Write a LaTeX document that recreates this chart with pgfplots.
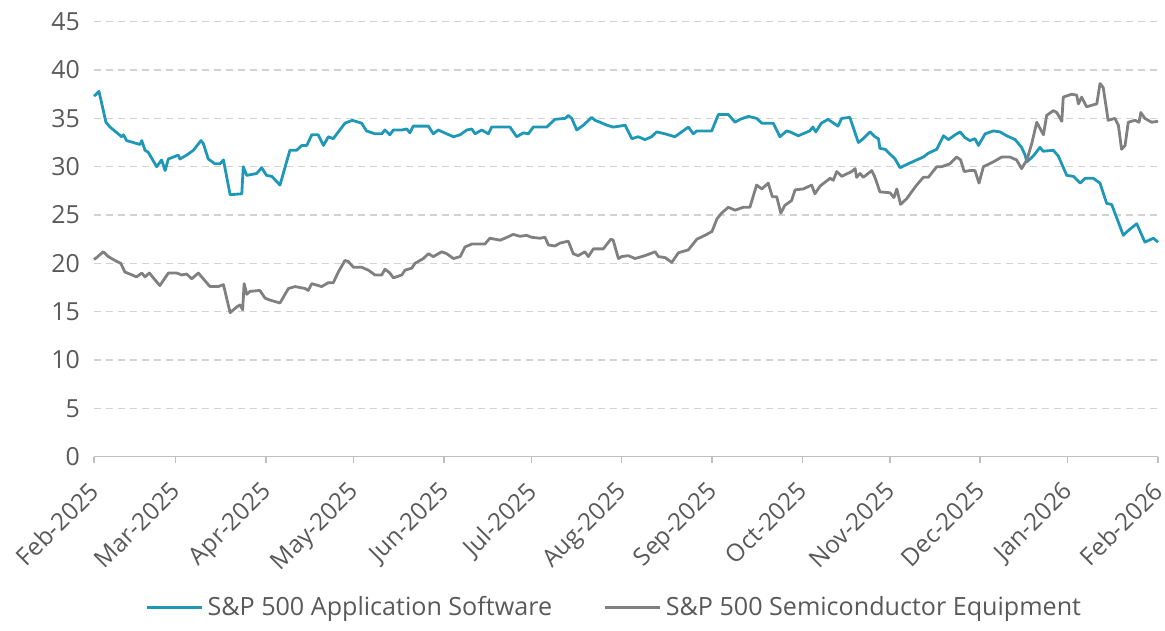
\documentclass[border=0pt]{standalone}
\usepackage{fontspec}
\setmainfont{Open Sans}
\usepackage{pgfplots}
\pgfplotsset{compat=1.18}
\definecolor{swblue}{RGB}{30,152,182}
\definecolor{semigray}{RGB}{128,128,128}
\definecolor{txt}{RGB}{89,89,89}
\definecolor{gridc}{RGB}{210,210,210}
\definecolor{axc}{RGB}{191,191,191}

\pgfplotstableread{
x y
0 37.3
1.1 37.6
1.7 37.8
4.1 34.6
5.5 34.1
8.3 33.4
9.5 33.1
10.1 33.3
11.2 32.7
15.8 32.3
16.4 32.7
17.5 31.7
18.6 31.5
21.5 30.0
23.2 30.7
24.4 29.6
25.5 30.8
28.9 31.2
29.5 30.8
31.8 31.2
34.1 31.7
36.7 32.7
37.5 32.4
39.2 30.8
41.5 30.3
43.2 30.3
44.4 30.7
46.7 27.1
50.7 27.2
51.2 30.0
52.4 29.1
55.8 29.3
57.5 29.9
59.2 29.1
61.0 29.0
63.8 28.1
67.2 31.7
69.5 31.7
71.3 32.2
73.0 32.2
74.7 33.3
76.9 33.3
78.7 32.2
80.4 33.1
82.1 32.9
83.8 33.6
86.1 34.5
88.6 34.8
91.8 34.5
93.5 33.7
96.4 33.4
98.7 33.4
99.8 33.8
101.5 33.3
102.7 33.8
105.6 33.8
107.3 33.9
108.4 33.5
109.5 34.2
114.7 34.2
116.4 33.4
118.1 33.8
121.0 33.4
123.3 33.1
125.6 33.3
127.9 33.8
129.6 33.9
130.7 33.4
133.0 33.8
135.3 33.4
136.4 34.1
142.7 34.1
145.0 33.1
147.3 33.5
149.0 33.4
150.7 34.1
155.3 34.1
158.1 34.9
161.6 35.0
162.7 35.3
163.9 35.0
165.6 33.8
167.9 34.3
170.7 35.1
171.9 34.8
173.6 34.6
175.9 34.3
178.1 34.1
180.4 34.2
182.2 34.3
184.5 32.9
186.7 33.1
189.0 32.8
191.3 33.1
193.0 33.6
195.9 33.4
199.3 33.1
203.9 34.1
205.6 33.4
206.8 33.7
211.9 33.7
214.2 35.4
217.6 35.4
219.9 34.6
221.6 34.9
224.5 35.2
227.3 35.0
229.1 34.5
233.0 34.5
235.3 33.1
237.6 33.7
238.8 33.6
241.6 33.2
245.5 33.7
246.6 34.1
247.6 33.6
249.5 34.5
251.8 34.9
255.2 34.2
256.5 35.0
259.3 35.1
262.2 32.5
263.9 32.9
266.2 33.6
267.9 33.1
269.1 32.9
269.6 31.9
271.4 31.8
274.8 30.8
276.5 29.9
279.3 30.3
282.2 30.7
284.5 31.0
286.2 31.4
289.1 31.8
291.4 33.2
293.1 32.8
295.4 33.3
297.1 33.6
298.8 33.0
300.5 32.7
302.2 32.9
303.4 32.2
305.7 33.4
308.5 33.7
310.8 33.6
313.1 33.2
316.0 32.8
318.2 32.0
319.4 31.2
320.0 30.5
322.2 31.1
324.5 32.0
325.6 31.6
329.1 31.7
330.8 31.1
333.7 29.1
336.0 29.0
338.3 28.3
340.0 28.8
342.8 28.8
345.1 28.3
347.4 26.2
349.1 26.1
353.1 22.9
354.8 23.4
357.7 24.1
360.5 22.2
363.4 22.6
365.0 22.2
}\software

\pgfplotstableread{
x y
0 20.4
0.9 20.6
3.2 21.2
4.9 20.7
7.8 20.2
9.2 20.0
10.6 19.1
12.3 18.9
14.6 18.6
16.4 19.0
17.5 18.6
19.0 19.0
20.9 18.3
22.6 17.7
25.5 19.0
28.4 19.0
30.1 18.8
31.8 18.9
33.5 18.4
35.8 19.0
37.5 18.4
39.8 17.6
42.6 17.6
44.4 17.8
46.7 14.9
49.0 15.5
50.1 15.7
51.0 15.2
51.5 17.9
52.4 16.8
53.5 17.1
56.9 17.2
58.7 16.4
60.4 16.2
63.8 15.9
66.7 17.4
69.0 17.6
72.4 17.4
73.5 17.2
74.7 17.9
78.1 17.6
80.4 18.0
82.1 18.0
83.8 19.1
86.1 20.3
87.2 20.2
89.0 19.6
91.8 19.6
94.1 19.3
96.4 18.8
98.7 18.8
99.8 19.4
101.5 19.0
102.7 18.5
105.6 18.8
106.7 19.3
109.0 19.5
110.1 20.0
113.0 20.5
114.7 21.0
116.4 20.7
119.3 21.2
121.0 21.0
123.3 20.5
125.6 20.7
127.3 21.7
129.6 22.0
134.1 22.0
135.8 22.6
139.3 22.4
141.0 22.6
143.8 23.0
146.1 22.8
148.4 22.9
150.1 22.7
153.0 22.6
154.7 22.7
155.9 21.9
158.1 21.8
159.9 22.1
162.7 22.3
164.4 21.0
166.1 20.8
168.4 21.2
169.6 20.7
171.3 21.5
174.7 21.5
177.3 22.5
178.1 22.4
179.9 20.5
181.0 20.7
183.3 20.8
185.6 20.5
189.0 20.8
192.5 21.2
193.6 20.7
195.9 20.6
198.2 20.1
200.5 21.1
203.9 21.4
206.8 22.5
209.6 22.9
212.0 23.3
213.7 24.6
215.3 25.2
217.6 25.8
219.9 25.5
222.7 25.8
225.0 25.8
227.3 28.1
229.1 27.7
231.3 28.3
232.7 26.9
234.2 26.9
235.6 25.2
237.0 26.0
239.3 26.5
240.5 27.6
243.3 27.7
246.2 28.1
247.3 27.2
249.1 28.0
252.5 28.8
253.6 28.6
254.8 29.5
256.5 29.0
259.9 29.5
261.1 29.8
261.6 28.9
262.8 29.3
263.9 28.9
266.8 29.6
267.9 28.9
269.6 27.4
273.1 27.3
274.4 26.8
275.4 27.7
276.7 26.1
278.8 26.7
282.2 28.1
284.5 28.9
286.2 28.9
289.1 30.0
290.8 30.0
293.6 30.3
295.9 31.0
297.3 30.7
298.5 29.5
300.5 29.6
302.2 29.6
303.6 28.3
305.1 30.0
308.5 30.5
311.4 31.0
314.2 31.0
316.5 30.7
318.2 29.8
320.0 30.7
321.7 32.4
323.4 34.6
325.7 33.3
326.8 35.3
329.1 35.8
330.3 35.6
332.0 34.7
332.5 37.2
335.4 37.5
337.1 37.4
337.7 36.5
338.8 37.2
340.5 36.2
342.8 36.4
344.0 36.5
345.1 38.6
346.2 38.2
347.9 34.8
350.2 35.0
351.4 34.3
352.5 31.8
353.7 32.2
354.8 34.6
357.1 34.8
358.5 34.6
359.1 35.6
360.5 35.0
362.8 34.6
365.0 34.7
}\semis

\begin{document}
\begin{tikzpicture}
\useasboundingbox (-47bp,-86.7bp) rectangle (535.5bp,228.35bp);
\begin{axis}[
  at={(0,0)}, anchor=south west,
  scale only axis,
  width=532bp, height=217.5bp,
  xmin=0, xmax=365, ymin=0, ymax=45,
  ytick={0,5,...,45},
  xtick={0,28,59,89,120,150,181,212,243,273,304,334,365},
  xticklabels={Feb-2025,Mar-2025,Apr-2025,May-2025,Jun-2025,Jul-2025,Aug-2025,Sep-2025,Oct-2025,Nov-2025,Dec-2025,Jan-2026,Feb-2026},
  /pgf/number format/assume math mode=true,
  ymajorgrids,
  grid style={gridc, dash pattern=on 3.5bp off 2.5bp, line width=0.6bp},
  axis lines*=left,
  y axis line style={draw=none},
  x axis line style={axc, line width=0.7bp},
  ytick style={draw=none},
  xtick style={axc, line width=0.7bp},
  tick align=outside,
  major tick length=3bp,
  yticklabel style={font=\fontsize{12.5}{13}\selectfont, text=txt, xshift=-0.5bp},
  xticklabel style={font=\fontsize{12.2}{13}\selectfont, text=txt, rotate=45, anchor=north east, xshift=-5bp, yshift=-0.5bp},
  legend style={at={(0.49,-0.346)}, anchor=center, draw=none, fill=none,
    font=\fontsize{12.6}{13}\selectfont, text=txt,
    legend columns=2,
    /tikz/every even column/.append style={column sep=24bp}},
  legend cell align=left,
  legend image code/.code={\draw[#1] (0bp,0bp) -- (27.5bp,0bp);},
  clip=false,
]
\addplot[swblue, line width=1.4bp, line join=round] table[x=x,y=y] {\software};
\addlegendentry{S\&P 500 Application Software}
\addplot[semigray, line width=1.4bp, line join=round] table[x=x,y=y] {\semis};
\addlegendentry{S\&P 500 Semiconductor Equipment}
\end{axis}
\end{tikzpicture}
\end{document}
